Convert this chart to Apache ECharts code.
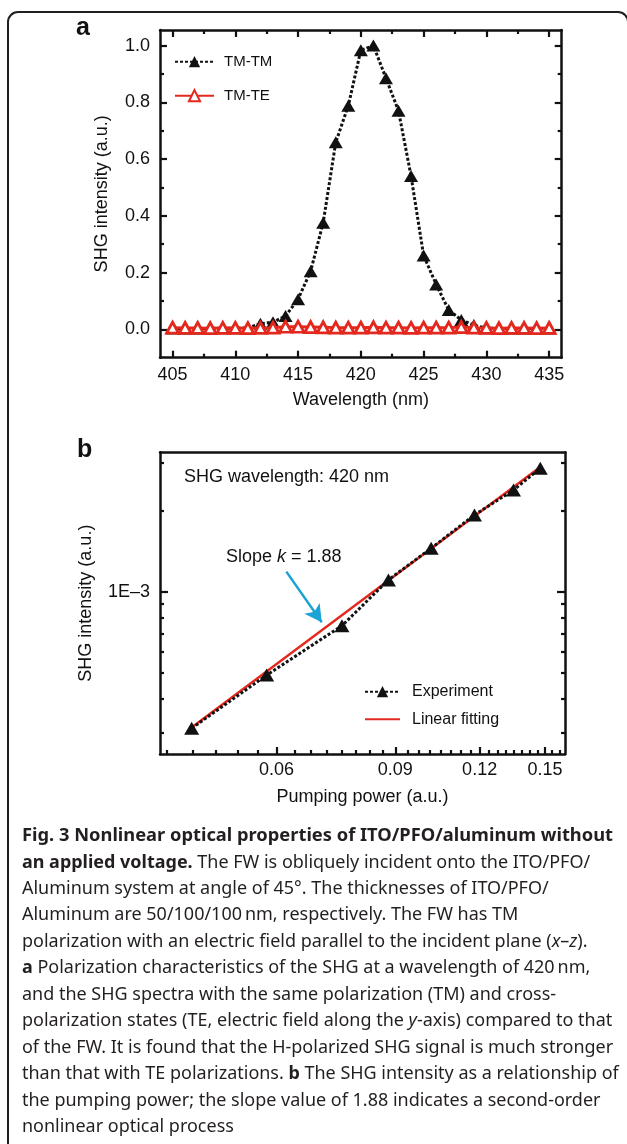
<!DOCTYPE html>
<html>
<head>
<meta charset="utf-8">
<title>Fig. 3 SHG of ITO/PFO/aluminum</title>
<script src="https://cdn.jsdelivr.net/npm/echarts@6/dist/echarts.min.js"></script>
<style>
  html, body { margin: 0; padding: 0; background: #fff; }
  #chart { width: 627px; height: 1144px; }
</style>
</head>
<body>
<div id="chart"></div>
<script>
// ---- panel a: SHG spectra ----
const wavelengths = [405, 406, 407, 408, 409, 410, 411, 412, 413, 414, 415, 416, 417, 418, 419, 420,
  421, 422, 423, 424, 425, 426, 427, 428, 429, 430, 431, 432, 433, 434, 435]
const tmTm = [0.003, 0.003, 0.003, 0.003, 0.004, 0.004, 0.005, 0.02, 0.025, 0.047, 0.106, 0.205, 0.376,
  0.659, 0.788, 0.984, 1.0, 0.885, 0.77, 0.54, 0.26, 0.158, 0.068, 0.033, 0.015, 0.004, 0.003, 0.003,
  0.003, 0.003, 0.003]
const tmTe = [0.006, 0.005, 0.005, 0.004, 0.005, 0.005, 0.004, 0.005, 0.006, 0.009, 0.009, 0.008, 0.007,
  0.006, 0.006, 0.006, 0.007, 0.006, 0.006, 0.005, 0.006, 0.006, 0.006, 0.008, 0.006, 0.005, 0.004,
  0.005, 0.005, 0.004, 0.005]
const wlTicks = [405, 410, 415, 420, 425, 430, 435]
const wlMinorTicks = [407.5, 412.5, 417.5, 422.5, 427.5, 432.5]
const intTicks = [0, 0.2, 0.4, 0.6, 0.8, 1.0]
const intMinorTicks = [0.1, 0.3, 0.5, 0.7, 0.9]

// ---- panel b: power dependence (log-log) ----
const pumpPower = [0.0449, 0.058, 0.075, 0.0879, 0.1017, 0.1179, 0.1347, 0.1476]
const shgIntensity = [3.12e-4, 4.91e-4, 7.48e-4, 1.105e-3, 1.448e-3, 1.923e-3, 2.378e-3, 2.864e-3]
const fitPower = [0.0452, 0.1483]
const fitIntensity = [3.18e-4, 2.92e-3]
const powerTicks = [0.06, 0.09, 0.12, 0.15]
const powerMinorTicks = [0.04125, 0.045, 0.04875, 0.0525, 0.05625, 0.06375, 0.0675, 0.07125, 0.075,
  0.07875, 0.0825, 0.08625, 0.09375, 0.0975, 0.10125, 0.105, 0.10875, 0.1125, 0.11625, 0.12375,
  0.1275, 0.13125, 0.135, 0.13875, 0.1425, 0.14625, 0.15375, 0.1575]
const shgTicks = [1e-3]
const shgMinorTicks = [3e-4, 4e-4, 5e-4, 6e-4, 7e-4, 8e-4, 9e-4, 2e-3, 3e-3]
const arrowFrom = [0.06203, 1.186e-3]
const arrowTo = [0.07, 7.7e-4]

const captionLines = [
  '{b|Fig. 3 Nonlinear optical properties of ITO/PFO/aluminum without}',
  '{b|an applied voltage.} The FW is obliquely incident onto the ITO/PFO/',
  'Aluminum system at angle of 45°. The thicknesses of ITO/PFO/',
  'Aluminum are 50/100/100\u2009nm, respectively. The FW has TM',
  'polarization with an electric field parallel to the incident plane ({i|x}–{i|z}).',
  '{b|a} Polarization characteristics of the SHG at a wavelength of 420\u2009nm,',
  'and the SHG spectra with the same polarization (TM) and cross-',
  'polarization states (TE, electric field along the {i|y}-axis) compared to that',
  'of the FW. It is found that the H-polarized SHG signal is much stronger',
  'than that with TE polarizations. {b|b} The SHG intensity as a relationship of',
  'the pumping power; the slope value of 1.88 indicates a second-order',
  'nonlinear optical process',
]

const lg = v => Math.log10(v)
const ink = '#111'
const red = '#e3281e'
const font = 'Liberation Sans'
const capFont = 'Noto Sans'

// caption is condensed in the original, squeeze it to the same line width
const measureCtx = document.createElement('canvas').getContext('2d')
function plainWidth(str, weight) {
  measureCtx.font = weight + ' 18px "' + capFont + '"'
  return measureCtx.measureText(str.replace(/\{\w+\|([^}]*)\}/g, '$1')).width
}
const bodyScale = 591 / plainWidth(captionLines[7], 'normal')
const titleScale = 591 / plainWidth(captionLines[0], 'bold')

function axis(gridIndex, position, min, max, ticks, len, extra) {
  return Object.assign({
    type: 'value',
    gridIndex: gridIndex,
    position: position,
    min: min,
    max: max,
    axisLine: { show: false, onZero: false },
    axisTick: {
      show: ticks.length > 0,
      inside: true,
      length: len,
      customValues: ticks,
      lineStyle: { color: ink, width: 2.2 },
    },
    axisLabel: { show: false },
    splitLine: { show: false },
  }, extra)
}
const frameLine = { show: true, onZero: false, lineStyle: { color: ink, width: 2.5 } }
const labelStyle = { color: ink, fontSize: 18, fontFamily: font }
const nameStyle = { color: ink, fontSize: 18, fontFamily: font }

const pMin = lg(0.0403), pMax = lg(0.1606)
const sMin = lg(2.506e-4), sMax = lg(3.28e-3)

const chart = echarts.init(document.getElementById('chart'))

const option = {
  animation: false,
  backgroundColor: '#fff',
  grid: [
    { left: 160, top: 30, width: 401.7, height: 327.7 },
    { left: 160, top: 452.3, width: 405, height: 301.7 },
  ],
  legend: [
    {
      data: ['TM-TM', 'TM-TE'],
      orient: 'vertical',
      left: 174,
      top: 52.7,
      padding: 0,
      itemWidth: 39,
      itemHeight: 14,
      itemGap: 16,
      selectedMode: false,
      textStyle: { color: ink, fontSize: 15, fontFamily: font, lineHeight: 18, padding: [0, 0, 0, 5] },
    },
    {
      data: ['Experiment', { name: 'Linear fitting', itemStyle: { opacity: 0 } }],
      orient: 'vertical',
      left: 364,
      top: 682.7,
      padding: 0,
      itemWidth: 35,
      itemHeight: 14,
      itemGap: 9.6,
      selectedMode: false,
      textStyle: { color: ink, fontSize: 16, fontFamily: font, lineHeight: 18, padding: [0, 0, 0, 7] },
    },
  ],
  xAxis: [
    axis(0, 'bottom', 404, 436, wlTicks, 7, {
      axisLine: frameLine,
      axisLabel: Object.assign({ show: true, margin: 8, customValues: wlTicks }, labelStyle),
      name: 'Wavelength (nm)',
      nameLocation: 'middle',
      nameGap: 33,
      nameTextStyle: nameStyle,
    }),
    axis(0, 'bottom', 404, 436, wlMinorTicks, 4),
    axis(0, 'top', 404, 436, wlTicks, 7, { axisLine: frameLine }),
    axis(0, 'top', 404, 436, wlMinorTicks, 4),
    axis(1, 'bottom', pMin, pMax, powerTicks.map(lg), 7, {
      axisLine: frameLine,
      axisLabel: Object.assign({
        show: true,
        margin: 7,
        customValues: powerTicks.map(lg),
        formatter: v => Math.pow(10, v).toFixed(2),
      }, labelStyle),
      name: 'Pumping power (a.u.)',
      nameLocation: 'middle',
      nameGap: 34,
      nameTextStyle: nameStyle,
    }),
    axis(1, 'bottom', pMin, pMax, powerMinorTicks.map(lg), 4),
    axis(1, 'top', pMin, pMax, [], 0, { axisLine: frameLine }),
  ],
  yAxis: [
    axis(0, 'left', -0.1, 1.055, intTicks, 7, {
      axisLine: frameLine,
      axisLabel: Object.assign({
        show: true,
        margin: 10,
        customValues: intTicks,
        formatter: v => v.toFixed(1),
      }, labelStyle),
      name: 'SHG intensity (a.u.)',
      nameLocation: 'middle',
      nameGap: 49,
      nameTextStyle: nameStyle,
    }),
    axis(0, 'left', -0.1, 1.055, intMinorTicks, 4),
    axis(0, 'right', -0.1, 1.055, intTicks, 7, { axisLine: frameLine }),
    axis(0, 'right', -0.1, 1.055, intMinorTicks, 4),
    axis(1, 'left', sMin, sMax, shgTicks.map(lg), 8, {
      axisLine: frameLine,
      axisLabel: Object.assign({
        show: true,
        margin: 10,
        customValues: shgTicks.map(lg),
        formatter: () => '1E\u20133',
      }, labelStyle),
      name: 'SHG intensity (a.u.)',
      nameLocation: 'middle',
      nameGap: 65,
      nameTextStyle: nameStyle,
    }),
    axis(1, 'left', sMin, sMax, shgMinorTicks.map(lg), 4),
    axis(1, 'right', sMin, sMax, shgTicks.map(lg), 8, { axisLine: frameLine }),
    axis(1, 'right', sMin, sMax, shgMinorTicks.map(lg), 4),
  ],
  series: [
    {
      name: 'TM-TM',
      type: 'line',
      xAxisIndex: 0,
      yAxisIndex: 0,
      data: wavelengths.map((w, i) => [w, tmTm[i]]),
      symbol: 'triangle',
      symbolSize: [14, 12],
      itemStyle: { color: ink },
      lineStyle: { color: ink, width: 3, type: [3, 2] },
      emphasis: { disabled: true },
      z: 2,
    },
    {
      name: 'TM-TE',
      type: 'line',
      xAxisIndex: 0,
      yAxisIndex: 0,
      data: wavelengths.map((w, i) => [w, tmTe[i]]),
      symbol: 'triangle',
      symbolSize: [12, 11],
      itemStyle: { color: '#fff', borderColor: red, borderWidth: 2.8 },
      lineStyle: { color: red, width: 3 },
      emphasis: { disabled: true },
      z: 3,
    },
    {
      name: 'Experiment',
      type: 'line',
      xAxisIndex: 4,
      yAxisIndex: 4,
      data: pumpPower.map((p, i) => [lg(p), lg(shgIntensity[i])]),
      symbol: 'triangle',
      symbolSize: [15, 13],
      itemStyle: { color: ink },
      lineStyle: { color: ink, width: 3, type: [3, 2] },
      emphasis: { disabled: true },
      z: 3,
    },
    {
      name: 'Linear fitting',
      type: 'line',
      xAxisIndex: 4,
      yAxisIndex: 4,
      data: fitPower.map((p, i) => [lg(p), lg(fitIntensity[i])]),
      symbol: 'none',
      itemStyle: { color: red },
      lineStyle: { color: red, width: 2.4 },
      emphasis: { disabled: true },
      z: 2,
      markLine: {
        silent: true,
        symbol: ['none', 'arrow'],
        symbolSize: [14, 17],
        label: { show: false },
        lineStyle: { color: '#1ba2d6', width: 2.5, type: 'solid' },
        emphasis: { disabled: true },
        data: [[
          { coord: [lg(arrowFrom[0]), lg(arrowFrom[1])] },
          { coord: [lg(arrowTo[0]), lg(arrowTo[1])] },
        ]],
      },
    },
  ],
  graphic: [
    {
      type: 'rect',
      silent: true,
      z: -1,
      shape: { x: 8, y: 12, width: 620, height: 1170, r: 10 },
      style: { fill: 'none', stroke: '#231f20', lineWidth: 2 },
    },
    {
      type: 'text', x: 76, y: 28.4,
      style: { text: 'a', fontSize: 25, fontWeight: 'bold', fontFamily: font, fill: ink, verticalAlign: 'middle', textVerticalAlign: 'middle' },
    },
    {
      type: 'text', x: 77, y: 449.7,
      style: { text: 'b', fontSize: 25, fontWeight: 'bold', fontFamily: font, fill: ink, verticalAlign: 'middle', textVerticalAlign: 'middle' },
    },
    {
      type: 'text', x: 184, y: 476.7,
      style: { text: 'SHG wavelength: 420 nm', fontSize: 18, fontFamily: font, fill: ink, verticalAlign: 'middle', textVerticalAlign: 'middle' },
    },
    {
      type: 'text', x: 226, y: 556.7,
      style: {
        text: '{n|Slope }{i|k}{n| = 1.88}',
        fontSize: 18, fontFamily: font, fill: ink, verticalAlign: 'middle', textVerticalAlign: 'middle',
        rich: {
          n: { fontSize: 18, fontFamily: font, fill: ink },
          i: { fontSize: 18, fontFamily: font, fontStyle: 'italic', fill: ink },
        },
      },
    },
  ].concat(captionLines.map((line, i) => ({
    type: 'text',
    x: 22,
    y: 836 + i * 26.45,
    scaleX: i === 0 ? titleScale : bodyScale,
    style: {
      text: line,
      fontSize: 18,
      fontFamily: capFont,
      fill: '#231f20',
      verticalAlign: 'middle',
      textVerticalAlign: 'middle',
      rich: {
        b: { fontSize: 18, fontFamily: capFont, fontWeight: 'bold', fill: '#231f20' },
        i: { fontSize: 18, fontFamily: capFont, fontStyle: 'italic', fill: '#231f20' },
      },
    },
  }))),
}

option && chart.setOption(option)
</script>
</body>
</html>
